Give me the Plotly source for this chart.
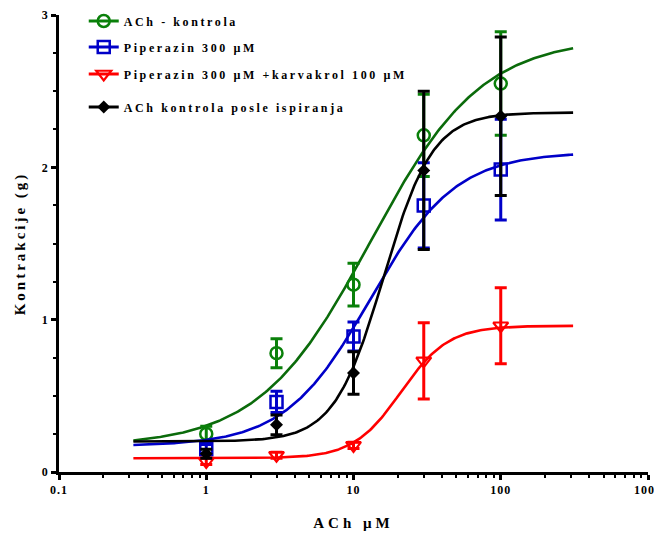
import numpy as np
import plotly.graph_objects as go

# ---- data ----
conc = [1, 3, 10, 30, 100]

ach_mean = [0.25, 0.78, 1.23, 2.21, 2.55]
ach_sem = [0.05, 0.095, 0.14, 0.27, 0.34]

pip_mean = [0.15, 0.46, 0.89, 1.75, 1.985]
pip_sem = [0.03, 0.07, 0.095, 0.28, 0.33]

carv_mean = [0.07, 0.11, 0.175, 0.73, 0.96]
carv_sem = [0.02, 0.02, 0.02, 0.25, 0.25]

wash_mean = [0.12, 0.31, 0.65, 1.98, 2.335]
wash_sem = [0.03, 0.065, 0.14, 0.52, 0.52]

# fitted 4-parameter logistic curves: bottom, top, EC50, hill
ach_fit = [0.17, 2.85, 13.0, 1.15]
pip_fit = [0.17, 2.10, 13.0, 1.5]
carv_fit = [0.09, 0.96, 21.0, 2.7]
wash_fit = [0.20, 2.36, 16.0, 2.6]

names = ["ACh - kontrola", "Piperazin 300 µM", "Piperazin 300 µM +karvakrol 100 µM",
         "ACh kontrola posle ispiranja"]

x_ticks = [0.1, 1, 10, 100, 1000]
x_ticktext = ["0.1", "1", "10", "100", "1000"]
y_ticks = [0, 1, 2, 3]

fit_range = (0.32, 310)


def logistic(x, p):
    b, t, ec, h = p
    return b + (t - b) / (1 + (ec / x) ** h)


FONT = "Liberation Serif"
xc = np.logspace(np.log10(fit_range[0]), np.log10(fit_range[1]), 300)

series = [
    (ach_mean, ach_sem, ach_fit, "#0a800a", "#0b6b0b", "circle-open", 12, 2.5),
    (pip_mean, pip_sem, pip_fit, "#0000c8", "#0000c8", "square-open", 12, 2.5),
    (carv_mean, carv_sem, carv_fit, "#ff0000", "#ff0000", "triangle-down-open", 13, 2.2),
    (wash_mean, wash_sem, wash_fit, "#000000", "#000000", "diamond", 10, 0),
]

# figure geometry (page body has an 8px margin)
W, H = 654, 525
ML, MR, MT, MB = 51, 14, 7, 61
plot_h = H - MT - MB
legend_rows_px = [21, 47, 74, 107]  # screen y of the legend rows
legend_ids = ["legend", "legend2", "legend3", "legend4"]

fig = go.Figure()
for i, (m, s, p, mc, lc, sym, size, lw) in enumerate(series):
    fig.add_trace(go.Scatter(x=xc, y=logistic(xc, p), mode="lines",
                             line=dict(color=lc, width=2.6), showlegend=False,
                             hoverinfo="skip"))
    fig.add_trace(go.Scatter(
        x=conc, y=m, mode="markers",
        marker=dict(symbol=sym, size=size, color=mc, line=dict(color=mc, width=lw)),
        error_y=dict(type="data", array=s, visible=True, color=mc, thickness=3, width=6),
        showlegend=False))
    # legend entry
    fig.add_trace(go.Scatter(
        x=[None], y=[None], mode="lines+markers", name=names[i],
        marker=dict(symbol=sym, size=size, color=mc, line=dict(color=mc, width=lw)),
        line=dict(color=mc, width=3), legend=legend_ids[i], showlegend=True))

axis_common = dict(
    showline=True, linecolor="black", linewidth=2.5, mirror=False,
    ticks="outside", tickcolor="black", tickwidth=2.5, ticklen=5,
    showgrid=False, zeroline=False, automargin=False, ticklabeloverflow="allow",
    tickfont=dict(family=FONT, size=12, color="black", weight="bold"),
)

legend_layout = {}
for i, lid in enumerate(legend_ids):
    legend_layout[lid] = dict(
        x=0.042, y=(8 + MT + plot_h - legend_rows_px[i]) / plot_h,
        xanchor="left", yanchor="middle",
        font=dict(family=FONT, size=12, weight="bold", color="black"),
        bgcolor="rgba(0,0,0,0)", itemwidth=30)

fig.update_layout(
    width=W, height=H,
    margin=dict(l=ML, r=MR, t=MT, b=MB, autoexpand=False),
    paper_bgcolor="white", plot_bgcolor="white",
    font=dict(family=FONT, color="black", weight="bold"),
    xaxis=dict(type="log", range=[-1, 3], tickmode="array", tickvals=x_ticks,
               ticktext=x_ticktext,
               minor=dict(tickmode="array",
                          tickvals=[k * 10 ** e for e in range(-1, 3) for k in range(2, 10)],
                          ticks="outside", ticklen=3, tickwidth=2, tickcolor="black"),
               title=dict(text="ACh µM", font=dict(family=FONT, size=15, weight="bold"),
                          standoff=22),
               **axis_common),
    yaxis=dict(range=[0, 3], tickmode="array", tickvals=y_ticks,
               minor=dict(dtick=0.25, ticks="outside", ticklen=3, tickwidth=2,
                          tickcolor="black"),
               title=dict(text="Kontrakcije (g)", font=dict(family=FONT, size=15, weight="bold"),
                          standoff=14),
               **axis_common),
    showlegend=True,
    **legend_layout,
)

post = """
var st = document.createElement('style');
st.textContent =
  '.legendtext, .legend2text, .legend3text, .legend4text{letter-spacing:2.6px !important;}' +
  '.scrollbox{clip-path:none !important;}' +
  '.xtitle{letter-spacing:4px !important;}' +
  '.ytitle{letter-spacing:3px !important;}' +
  '.xtick text, .ytick text{letter-spacing:1px !important;}';
document.head.appendChild(st);
"""

fig.write_html("out.html", post_script=post)
